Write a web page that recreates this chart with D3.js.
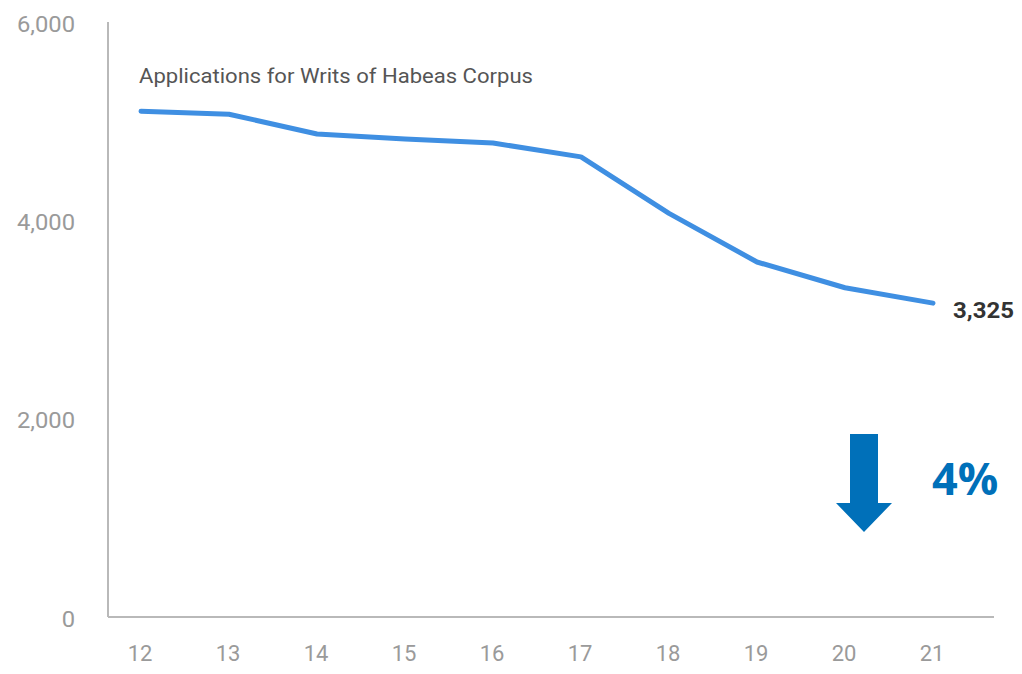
<!DOCTYPE html>
<html><head><meta charset="utf-8">
<script src="https://cdn.jsdelivr.net/npm/d3@7"></script>
<style>body{margin:0;background:#fff;}svg{display:block;}</style>
</head><body>
<svg id="chart" width="1022" height="674"></svg>
<script>
const years = ["12","13","14","15","16","17","18","19","20","21"];
const applications = [5100, 5070, 4870, 4820, 4780, 4640, 4070, 3580, 3320, 3165];
const yTicks = [0, 2000, 4000, 6000];
const title = "Applications for Writs of Habeas Corpus";
const endLabel = "3,325";
const changeLabel = "4%";

const svg = d3.select("#chart");
const x = d3.scalePoint().domain(years).range([141, 933]);
const y = d3.scaleLinear().domain([0, 6000]).range([617, 22]);

// axes lines
svg.append("line").attr("x1",108).attr("x2",108).attr("y1",y(6000)).attr("y2",y(0))
  .attr("stroke","#b9b9b9").attr("stroke-width",2);
svg.append("line").attr("x1",108).attr("x2",994).attr("y1",y(0)).attr("y2",y(0))
  .attr("stroke","#b9b9b9").attr("stroke-width",2);

// y tick labels
svg.selectAll(".yt").data(yTicks).enter().append("text")
  .attr("x",75).attr("y",d=>y(d)+2).attr("dy","0.35em")
  .attr("text-anchor","end").attr("fill","#9a9a9a")
  .attr("font-family","Roboto, sans-serif").attr("font-size",22)
  .attr("transform", d=>`translate(75,0) scale(1.08,1) translate(-75,0)`)
  .text(d=>d3.format(",")(d));

// x tick labels
svg.selectAll(".xt").data(years).enter().append("text")
  .attr("x",d=>x(d)-1).attr("y",661)
  .attr("text-anchor","middle").attr("fill","#9a9a9a")
  .attr("font-family","Roboto, sans-serif").attr("font-size",22)
  .text(d=>d);

// title
svg.append("text").attr("x",139).attr("y",83).attr("fill","#555")
  .attr("font-family","Roboto, sans-serif").attr("font-size",21)
  .attr("textLength",394).attr("lengthAdjust","spacingAndGlyphs")
  .text(title);

// line
const line = d3.line().x((d,i)=>x(years[i])).y(d=>y(d));
svg.append("path").datum(applications).attr("d",line)
  .attr("fill","none").attr("stroke","#3f8fe2").attr("stroke-width",5)
  .attr("stroke-linejoin","round").attr("stroke-linecap","round");

// end label
svg.append("text").attr("x",953).attr("y",y(applications[applications.length-1])+15)
  .attr("fill","#333").attr("font-family","Roboto, sans-serif").attr("font-weight","bold")
  .attr("font-size",22).attr("textLength",61).attr("lengthAdjust","spacingAndGlyphs")
  .text(endLabel);

// arrow
svg.append("path")
  .attr("d","M850,434 L878,434 L878,503 L892,503 L864,532 L836,503 L850,503 Z")
  .attr("fill","#0070b9");
svg.append("text").attr("x",932).attr("y",495).attr("fill","#0070b9")
  .attr("font-family","'Open Sans', sans-serif").attr("font-weight","bold")
  .attr("font-size",45).text(changeLabel);
</script>
</body></html>
